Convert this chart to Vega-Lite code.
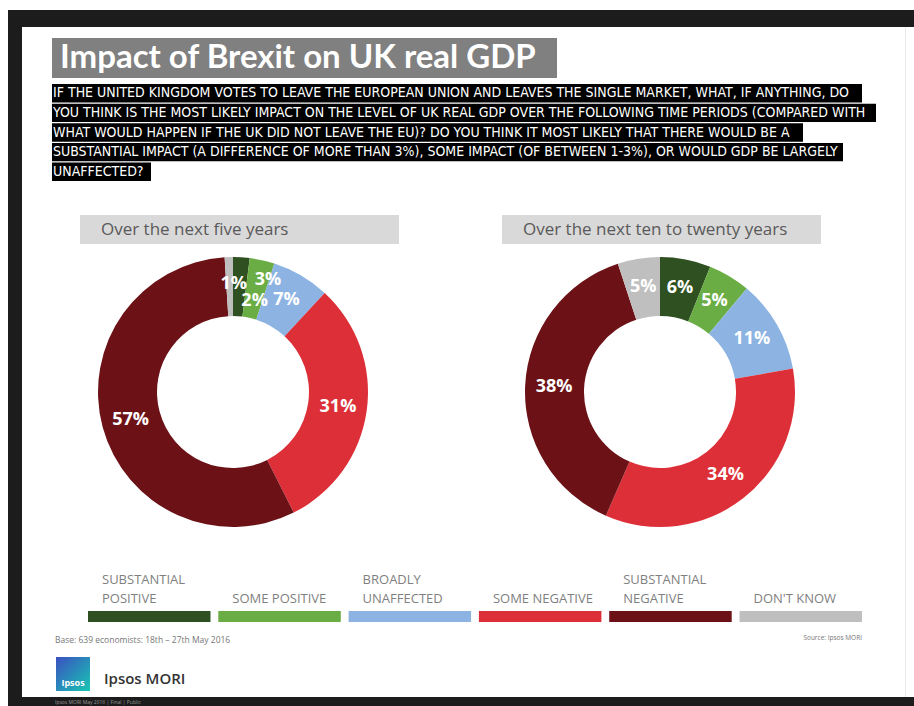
{
  "$schema": "https://vega.github.io/schema/vega-lite/v6.json",
  "width": 914,
  "height": 706,
  "autosize": {"type": "fit", "contains": "padding"},
  "padding": 0,
  "background": "white",
  "config": {"view": {"stroke": null}, "font": "Open Sans"},
  "datasets": {
    "donut": [
      {"period": "five", "cat": "Substantial positive", "idx": 1, "value": 0.02},
      {"period": "five", "cat": "Some positive", "idx": 2, "value": 0.03},
      {"period": "five", "cat": "Broadly unaffected", "idx": 3, "value": 0.07},
      {"period": "five", "cat": "Some negative", "idx": 4, "value": 0.31},
      {"period": "five", "cat": "Substantial negative", "idx": 5, "value": 0.57},
      {"period": "five", "cat": "Don't know", "idx": 6, "value": 0.01},
      {"period": "ten", "cat": "Substantial positive", "idx": 1, "value": 0.06},
      {"period": "ten", "cat": "Some positive", "idx": 2, "value": 0.05},
      {"period": "ten", "cat": "Broadly unaffected", "idx": 3, "value": 0.11},
      {"period": "ten", "cat": "Some negative", "idx": 4, "value": 0.34},
      {"period": "ten", "cat": "Substantial negative", "idx": 5, "value": 0.38},
      {"period": "ten", "cat": "Don't know", "idx": 6, "value": 0.05}
    ],
    "legend": [
      {"cat": "Substantial positive", "label": ["SUBSTANTIAL", "POSITIVE"]},
      {"cat": "Some positive", "label": ["", "SOME POSITIVE"]},
      {"cat": "Broadly unaffected", "label": ["BROADLY", "UNAFFECTED"]},
      {"cat": "Some negative", "label": ["", "SOME NEGATIVE"]},
      {"cat": "Substantial negative", "label": ["SUBSTANTIAL", "NEGATIVE"]},
      {"cat": "Don't know", "label": ["", "DON'T KNOW"]}
    ],
    "question": [
      {"n": 1, "line": "IF THE UNITED KINGDOM VOTES TO LEAVE THE EUROPEAN UNION AND LEAVES THE SINGLE MARKET, WHAT, IF ANYTHING, DO"},
      {"n": 2, "line": "YOU THINK IS THE MOST LIKELY IMPACT ON THE LEVEL OF UK REAL GDP OVER THE FOLLOWING TIME PERIODS (COMPARED WITH"},
      {"n": 3, "line": "WHAT WOULD HAPPEN IF THE UK DID NOT LEAVE THE EU)? DO YOU THINK IT MOST LIKELY THAT THERE WOULD BE A"},
      {"n": 4, "line": "SUBSTANTIAL IMPACT (A DIFFERENCE OF MORE THAN 3%), SOME IMPACT (OF BETWEEN 1-3%), OR WOULD GDP BE LARGELY"},
      {"n": 5, "line": "UNAFFECTED?"}
    ]
  },
  "layer": [
    {"data": {"values": [{}]}, "mark": {"type": "rect", "color": "#1c1c1c"},
     "encoding": {"x": {"value": 8}, "x2": {"value": 914}, "y": {"value": 10}, "y2": {"value": 27}}},
    {"data": {"values": [{}]}, "mark": {"type": "rect", "color": "#1c1c1c"},
     "encoding": {"x": {"value": 8}, "x2": {"value": 22}, "y": {"value": 10}, "y2": {"value": 706}}},
    {"data": {"values": [{}]}, "mark": {"type": "rect", "color": "#1c1c1c"},
     "encoding": {"x": {"value": 8}, "x2": {"value": 914}, "y": {"value": 697}, "y2": {"value": 706}}},
    {"data": {"values": [{}]}, "mark": {"type": "rect", "color": "#e8e8e8"},
     "encoding": {"x": {"value": 905}, "x2": {"value": 906}, "y": {"value": 27}, "y2": {"value": 697}}},
    {"data": {"values": [{"t": "Ipsos MORI  May 2016 | Final | Public"}]},
     "mark": {"type": "text", "align": "left", "baseline": "middle", "fontSize": 5, "color": "#9a9a9a"},
     "encoding": {"x": {"value": 55}, "y": {"value": 702}, "text": {"field": "t"}}},

    {"data": {"values": [{}]}, "mark": {"type": "rect", "color": "#808080"},
     "encoding": {"x": {"value": 52}, "x2": {"value": 557}, "y": {"value": 38}, "y2": {"value": 78}}},
    {"data": {"values": [{"t": "Impact of Brexit on UK real GDP"}]},
     "mark": {"type": "text", "align": "left", "baseline": "middle", "font": "Lato", "fontSize": 33, "fontWeight": "bold", "color": "white"},
     "encoding": {"x": {"value": 60}, "y": {"value": 58}, "text": {"field": "t"}}},

    {"data": {"name": "question"},
     "encoding": {"y": {"field": "n", "type": "ordinal", "scale": {"type": "band", "range": [84, 181], "paddingInner": 0.06, "paddingOuter": 0}, "axis": null}},
     "layer": [
       {"transform": [{"filter": "datum.n === 1"}], "mark": {"type": "rect", "color": "black"}, "encoding": {"x": {"value": 52}, "x2": {"value": 862}}},
       {"transform": [{"filter": "datum.n === 2"}], "mark": {"type": "rect", "color": "black"}, "encoding": {"x": {"value": 52}, "x2": {"value": 876}}},
       {"transform": [{"filter": "datum.n === 3"}], "mark": {"type": "rect", "color": "black"}, "encoding": {"x": {"value": 52}, "x2": {"value": 803}}},
       {"transform": [{"filter": "datum.n === 4"}], "mark": {"type": "rect", "color": "black"}, "encoding": {"x": {"value": 52}, "x2": {"value": 843}}},
       {"transform": [{"filter": "datum.n === 5"}], "mark": {"type": "rect", "color": "black"}, "encoding": {"x": {"value": 52}, "x2": {"value": 151}}},
       {"mark": {"type": "text", "align": "left", "baseline": "middle", "color": "white", "font": "Liberation Sans Narrow, DejaVu Sans Condensed, Liberation Sans", "fontSize": 14},
        "encoding": {"x": {"value": 53}, "text": {"field": "line"}}}
     ]},

    {"data": {"values": [{}]}, "mark": {"type": "rect", "color": "#d9d9d9"},
     "encoding": {"x": {"value": 80}, "x2": {"value": 399}, "y": {"value": 215}, "y2": {"value": 244}}},
    {"data": {"values": [{}]}, "mark": {"type": "rect", "color": "#d9d9d9"},
     "encoding": {"x": {"value": 502}, "x2": {"value": 821}, "y": {"value": 215}, "y2": {"value": 244}}},
    {"data": {"values": [{"t": "Over the next five years"}]},
     "mark": {"type": "text", "align": "left", "baseline": "middle", "fontSize": 17, "color": "#595959"},
     "encoding": {"x": {"value": 101}, "y": {"value": 230}, "text": {"field": "t"}}},
    {"data": {"values": [{"t": "Over the next ten to twenty years"}]},
     "mark": {"type": "text", "align": "left", "baseline": "middle", "fontSize": 17, "color": "#595959"},
     "encoding": {"x": {"value": 523}, "y": {"value": 230}, "text": {"field": "t"}}},

    {"data": {"name": "donut"},
     "transform": [{"filter": "datum.period === 'five'"}],
     "encoding": {
       "theta": {"field": "value", "type": "quantitative", "stack": "normalize"},
       "order": {"field": "idx", "type": "quantitative"},
       "x": {"value": 233},
       "y": {"value": 392}
     },
     "layer": [
       {"mark": {"type": "arc", "outerRadius": 135, "innerRadius": 76},
        "encoding": {"color": {"field": "cat", "type": "nominal",
          "scale": {"domain": ["Substantial positive", "Some positive", "Broadly unaffected", "Some negative", "Substantial negative", "Don't know"],
                    "range": ["#2f5020", "#6aad45", "#8db3e2", "#dd2f38", "#6c1217", "#bfbfbf"]},
          "legend": null}}},
       {"mark": {"type": "text", "radius": 106, "fontSize": 18, "fontWeight": "bold", "color": "white"},
        "encoding": {"text": {"field": "value", "type": "quantitative", "format": ".0%"},
          "opacity": {"condition": {"test": "datum.idx >= 3 && datum.idx <= 5", "value": 1}, "value": 0}}},
       {"mark": {"type": "text", "radius": 106, "fontSize": 18, "fontWeight": "bold", "color": "white", "dx": 15, "dy": 15},
        "encoding": {"text": {"field": "value", "type": "quantitative", "format": ".0%"},
          "opacity": {"condition": {"test": "datum.idx === 1", "value": 1}, "value": 0}}},
       {"mark": {"type": "text", "radius": 106, "fontSize": 18, "fontWeight": "bold", "color": "white", "dx": 12, "dy": -9},
        "encoding": {"text": {"field": "value", "type": "quantitative", "format": ".0%"},
          "opacity": {"condition": {"test": "datum.idx === 2", "value": 1}, "value": 0}}},
       {"mark": {"type": "text", "radius": 106, "fontSize": 18, "fontWeight": "bold", "color": "white", "dx": 4, "dy": -2},
        "encoding": {"text": {"field": "value", "type": "quantitative", "format": ".0%"},
          "opacity": {"condition": {"test": "datum.idx === 6", "value": 1}, "value": 0}}}
     ]},

    {"data": {"name": "donut"},
     "transform": [{"filter": "datum.period === 'ten'"}],
     "encoding": {
       "theta": {"field": "value", "type": "quantitative", "stack": "normalize"},
       "order": {"field": "idx", "type": "quantitative"},
       "x": {"value": 660},
       "y": {"value": 392}
     },
     "layer": [
       {"mark": {"type": "arc", "outerRadius": 135, "innerRadius": 76},
        "encoding": {"color": {"field": "cat", "type": "nominal", "legend": null}}},
       {"mark": {"type": "text", "radius": 106, "fontSize": 18, "fontWeight": "bold", "color": "white"},
        "encoding": {"text": {"field": "value", "type": "quantitative", "format": ".0%"}}}
     ]},

    {"data": {"name": "legend"},
     "layer": [
       {"mark": {"type": "rect"},
        "encoding": {
          "x": {"field": "cat", "type": "nominal", "scale": {"type": "band", "domain": ["Substantial positive", "Some positive", "Broadly unaffected", "Some negative", "Substantial negative", "Don't know"], "range": [88, 862], "paddingInner": 0.06, "paddingOuter": 0}, "axis": null},
          "y": {"value": 611}, "y2": {"value": 622},
          "color": {"field": "cat", "type": "nominal", "legend": null}}},
       {"mark": {"type": "text", "align": "left", "baseline": "alphabetic", "fontSize": 13, "lineHeight": 19, "color": "#7f7f7f", "dx": 14},
        "encoding": {
          "x": {"field": "cat", "type": "nominal", "bandPosition": 0, "scale": {"type": "band", "domain": ["Substantial positive", "Some positive", "Broadly unaffected", "Some negative", "Substantial negative", "Don't know"], "range": [88, 862], "paddingInner": 0.06, "paddingOuter": 0}, "axis": null},
          "y": {"value": 584},
          "text": {"field": "label"}}}
     ]},

    {"data": {"values": [{"t": "Base: 639 economists:  18th \u2013 27th May 2016"}]},
     "mark": {"type": "text", "align": "left", "baseline": "middle", "fontSize": 8.5, "color": "#777777"},
     "encoding": {"x": {"value": 55}, "y": {"value": 640}, "text": {"field": "t"}}},
    {"data": {"values": [{"t": "Source: Ipsos MORI"}]},
     "mark": {"type": "text", "align": "right", "baseline": "middle", "fontSize": 6.5, "color": "#777777"},
     "encoding": {"x": {"value": 862}, "y": {"value": 638}, "text": {"field": "t"}}},

    {"data": {"values": [{}]},
     "mark": {"type": "rect", "color": {"gradient": "linear", "x1": 0, "y1": 0, "x2": 1, "y2": 1, "stops": [{"offset": 0, "color": "#3b4fc0"}, {"offset": 1, "color": "#18c7b4"}]}},
     "encoding": {"x": {"value": 56}, "x2": {"value": 90}, "y": {"value": 657}, "y2": {"value": 691}}},
    {"data": {"values": [{"t": "Ipsos"}]},
     "mark": {"type": "text", "align": "center", "baseline": "middle", "fontSize": 9, "fontWeight": "bold", "color": "white"},
     "encoding": {"x": {"value": 73}, "y": {"value": 683}, "text": {"field": "t"}}},
    {"data": {"values": [{"t": "Ipsos MORI"}]},
     "mark": {"type": "text", "align": "left", "baseline": "middle", "fontSize": 15, "fontWeight": 600, "color": "#333333"},
     "encoding": {"x": {"value": 104}, "y": {"value": 679}, "text": {"field": "t"}}}
  ]
}
